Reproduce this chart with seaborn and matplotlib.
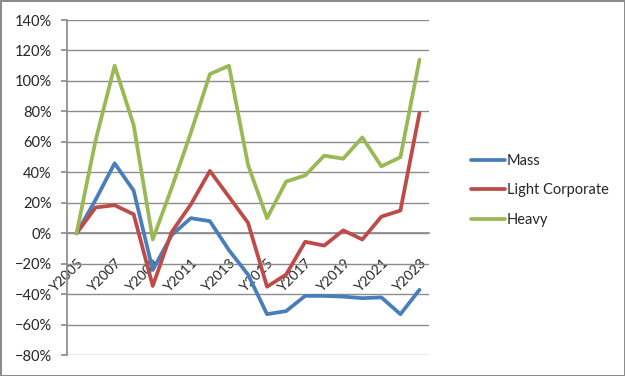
import numpy as np
import pandas as pd
import matplotlib
matplotlib.use("Agg")
import matplotlib.pyplot as plt
from matplotlib.ticker import PercentFormatter, FixedLocator
import seaborn as sns

years = [f"Y{y}" for y in range(2005, 2024)]
mass = [0, 22, 46, 28, -24, -1, 10, 8, -11, -27, -53, -51, -41, -41, -41.5, -42.5, -42, -53, -37]
light_corporate = [0, 17, 18.5, 12.5, -34.5, 1, 19, 41, 24, 7, -35, -27, -5.5, -8, 2, -4, 11, 15, 79]
heavy = [0, 61, 110, 71, -4, 30, 66, 104.5, 110, 45, 10, 34, 38, 51, 49, 63, 44, 50, 114]

series = {"Mass": mass, "Light Corporate": light_corporate, "Heavy": heavy}
colors = {"Mass": "#4A7EBB", "Light Corporate": "#BE4B48", "Heavy": "#98B954"}

df = pd.DataFrame({"year": years, **series})
df["pos"] = range(len(years))
df = df.melt(id_vars=["year", "pos"], var_name="segment", value_name="growth")

sns.set_theme(style="white")
plt.rcParams["font.family"] = ["Lato", "DejaVu Sans"]

fig = plt.figure(figsize=(6.25, 3.76), dpi=100)
fig.patch.set_edgecolor("#8c8c8c")
fig.patch.set_linewidth(2)
ax = fig.add_axes([0.1072, 0.055, 0.5792, 0.8918])

sns.lineplot(data=df, x="pos", y="growth", hue="segment", palette=colors,
             linewidth=2.7, ax=ax, legend=True)

ax.set_xlim(-0.5, len(years) - 0.5)
ax.set_ylim(-80, 140)
ax.yaxis.set_major_locator(FixedLocator(np.arange(-80, 141, 20)))
ax.yaxis.set_major_formatter(PercentFormatter(decimals=0))
ax.grid(axis="y", color="#8c8c8c", linewidth=1)
ax.set_axisbelow(True)

for s in ["top", "right"]:
    ax.spines[s].set_visible(False)
ax.spines["left"].set_color("#8c8c8c")
ax.spines["bottom"].set_color("#8c8c8c")
ax.spines["bottom"].set_position(("data", 0))
ax.spines["bottom"].set_zorder(0)

ax.set_xticks(range(0, len(years), 2))
ax.set_xticklabels(years[::2], rotation=45, ha="right", va="top",
                   rotation_mode="anchor", fontsize=10)
ax.set_xticks(np.arange(-0.5, len(years), 1), minor=True)
ax.tick_params(axis="x", which="major", length=0, pad=17)
ax.tick_params(axis="x", which="minor", length=4, color="#8c8c8c", direction="out")
ax.tick_params(axis="y", length=4, color="#8c8c8c", direction="out", left=True,
               labelsize=10.5, pad=7)
ax.set_xlabel("")
ax.set_ylabel("")

handles, labels = ax.get_legend_handles_labels()
ax.legend(handles, labels, loc="upper left", bbox_to_anchor=(0.733, 0.625),
          bbox_transform=fig.transFigure, frameon=False, fontsize=10.5,
          handlelength=2.3, handletextpad=0.15, labelspacing=1.05)

fig.savefig("out.png", dpi=100, edgecolor=fig.get_edgecolor())
